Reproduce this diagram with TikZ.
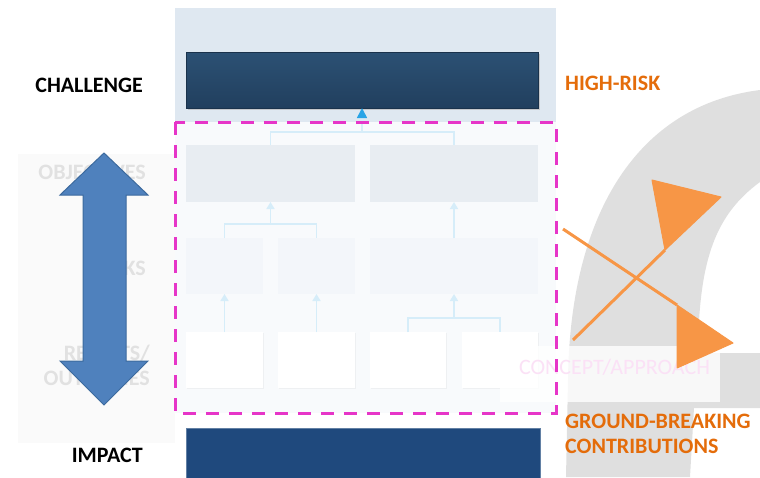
\documentclass[tikz,border=0pt]{standalone}
\usepackage{fontspec}
\setmainfont{Carlito}
\usetikzlibrary{arrows.meta,shadows}
\definecolor{toppanel}{HTML}{DFE8F1}
\definecolor{chtop}{HTML}{2C5174}
\definecolor{chbot}{HTML}{213F5E}
\definecolor{dashfill}{HTML}{F8FAFC}
\definecolor{objfill}{HTML}{E8EDF2}
\definecolor{taskfill}{HTML}{F3F6FA}
\definecolor{connc}{HTML}{D6EDF9}
\definecolor{arrowblue}{HTML}{29A4E6}
\definecolor{magentadash}{HTML}{E635C8}
\definecolor{impactc}{HTML}{1F497D}
\definecolor{orangetext}{HTML}{E46C0A}
\definecolor{orangearrow}{HTML}{F79646}
\definecolor{bigblue}{HTML}{4F81BD}
\definecolor{bigblueline}{HTML}{3C6A9E}
\definecolor{gshape}{HTML}{DFDFDF}
\definecolor{leftpanel}{HTML}{FAFAFA}
\definecolor{faintlabel}{HTML}{E1E1E1}
\definecolor{conceptpink}{HTML}{FBE1F6}
\tikzset{
  boxbase/.style={inner sep=0pt, outer sep=0pt, minimum height=#1},
  objbox/.style={boxbase=57pt, fill=objfill},
  taskbox/.style={boxbase=56pt, fill=taskfill},
  resbox/.style={boxbase=56pt, fill=white, drop shadow={shadow xshift=1pt, shadow yshift=-1pt, opacity=0.08}},
  conn/.style={draw=connc, line width=1.6pt},
  connarrow/.style={conn, -{Triangle[width=8pt,length=7pt,color=connc]}},
  biglabel/.style={font=\fontsize{22}{25}\selectfont\bfseries, inner sep=0pt, anchor=east},
  orangelabel/.style={font=\fontsize{22}{25}\selectfont\bfseries, text=orangetext, inner sep=0pt, anchor=west, align=left},
  orangeline/.style={draw=orangearrow, line width=3pt},
  orangehead/.style={fill=orangearrow, draw=orangearrow, line width=1pt, line join=round}
}
\begin{document}
\begin{tikzpicture}[x=1pt, y=-1pt]
\useasboundingbox (0,0) rectangle (760,477);
\clip (0,0) rectangle (760,477);
% background G shape
\fill[gshape] (760,90) .. controls (640,105) and (570,210) .. (568,380) -- (566,477) -- (690,477) -- (694,408) -- (760,408) -- (760,353) -- (698,353) -- (698,345) .. controls (700,260) and (715,215) .. (760,182) -- cycle;
% left panel
\fill[leftpanel] (18,154) rectangle (175,443);
% faint labels
\node[biglabel, text=faintlabel] (lobj) at (146,172) {OBJECTIVES};
\node[biglabel, text=faintlabel] (ltask) at (146,268) {TASKS};
\node[biglabel, text=faintlabel, align=right] (lres) at (150,365) {RESULTS/\\OUTCOMES};
% top panel
\fill[toppanel] (175,8) rectangle (556,122);
% dashed region fill
\fill[dashfill] (175,122) rectangle (556,413);
% challenge box
\fill[gray!60, opacity=0.6] (188,54) rectangle (540,110);
\node[boxbase=56pt, minimum width=352pt, top color=chtop, bottom color=chbot, draw=chbot!80!black, line width=0.4pt] (ch) at (362,80) {};
% objective boxes
\node[objbox, minimum width=169pt] (o1) at (270.5,173.5) {};
\node[objbox, minimum width=168pt] (o2) at (454,173.5) {};
% task boxes
\node[taskbox, minimum width=77pt] (t1) at (224.5,266) {};
\node[taskbox, minimum width=77pt] (t2) at (316.5,266) {};
\node[taskbox, minimum width=168pt] (t3) at (454,266) {};
% result boxes
\node[resbox, minimum width=77pt] (r1) at (224.5,360) {};
\node[resbox, minimum width=77pt] (r2) at (316.5,360) {};
\node[resbox, minimum width=76pt] (r3) at (408,360) {};
\node[resbox, minimum width=76pt] (r4) at (500,360) {};
% connectors
\coordinate (j0) at (362,132);
\coordinate (j1) at (270.5,224);
\coordinate (j2) at (454,318);
\draw[conn] (o1.north) |- (j0) -| (o2.north);
\draw[conn, -{Triangle[width=10pt,length=10pt,color=arrowblue]}] (j0) -- (ch.south);
\draw[conn] (t1.north) |- (j1) -| (t2.north);
\draw[connarrow] (j1) -- (o1.south);
\draw[connarrow] (t3.north) -- (o2.south);
\draw[connarrow] (r1.north) -- (t1.south);
\draw[connarrow] (r2.north) -- (t2.south);
\draw[conn] (r3.north) |- (j2) -| (r4.north);
\draw[connarrow] (j2) -- (t3.south);
% concept box
\node[fill=white, fill opacity=0.8, inner sep=0pt, minimum width=220pt, minimum height=56pt] (concept) at (610,374) {};
\node[font=\fontsize{22}{25}\selectfont, text=conceptpink, inner sep=0pt] (concepttext) at (614.5,367) {CONCEPT/APPROACH};
% dashed outline
\draw[magentadash, line width=3pt, dash pattern=on 13pt off 10pt] (175,122) rectangle (556,413);
% impact box
\node[boxbase=62pt, minimum width=354pt, fill=impactc, draw=impactc!70!white, line width=0.6pt] (imp) at (363,459) {};
% big double arrow
\filldraw[fill=bigblue, draw=bigblueline, line width=1pt, line join=miter]
  (104,153) -- (148,195) -- (126,195) -- (126,361) -- (148,361) -- (104,405)
  -- (60,361) -- (83,361) -- (83,195) -- (60,195) -- cycle;
% labels
\node[biglabel] (lch) at (143,85) {CHALLENGE};
\node[biglabel] (limp) at (143,455) {IMPACT};
\node[orangelabel] (lhr) at (565,83) {HIGH-RISK};
\node[orangelabel] (lgb) at (565,434) {GROUND-BREAKING\\CONTRIBUTIONS};
% orange crossing arrows
\coordinate (a1s) at (563,229);
\coordinate (a1e) at (677,305);
\coordinate (a2s) at (573,340);
\coordinate (a2e) at (665,250);
\draw[orangeline] (a1s) -- (a1e);
\draw[orangeline] (a2s) -- (a2e);
\filldraw[orangehead] (677,305) -- (733,343) -- (677,368) -- cycle;
\filldraw[orangehead] (652,180) -- (721,197) -- (665,250) -- cycle;
\end{tikzpicture}
\end{document}
